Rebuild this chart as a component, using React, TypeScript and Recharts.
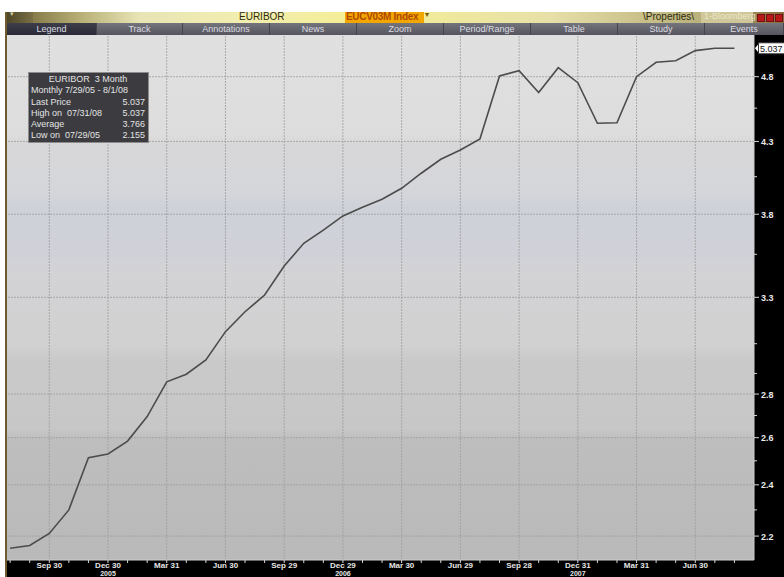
import React from "react";
import { LineChart, Line, XAxis, YAxis, ReferenceLine } from "recharts";

// monthly EURIBOR 3M fixings, 7/29/05 - 8/1/08
const dates = [
  "7/29/05", "8/31/05", "9/30/05", "10/31/05", "11/30/05", "12/30/05",
  "1/31/06", "2/28/06", "3/31/06", "4/28/06", "5/31/06", "6/30/06",
  "7/31/06", "8/31/06", "9/29/06", "10/31/06", "11/30/06", "12/29/06",
  "1/31/07", "2/28/07", "3/30/07", "4/30/07", "5/31/07", "6/29/07",
  "7/31/07", "8/31/07", "9/28/07", "10/31/07", "11/30/07", "12/31/07",
  "1/31/08", "2/29/08", "3/31/08", "4/30/08", "5/30/08", "6/30/08",
  "7/31/08", "8/1/08",
];
const rates = [
  2.155, 2.165, 2.21, 2.3, 2.513, 2.529,
  2.585, 2.695, 2.859, 2.896, 2.967, 3.113,
  3.22, 3.313, 3.48, 3.617, 3.699, 3.789,
  3.845, 3.898, 3.971, 4.074, 4.172, 4.238,
  4.318, 4.806, 4.849, 4.672, 4.874, 4.751,
  4.435, 4.439, 4.8, 4.919, 4.932, 5.017,
  5.037, 5.037,
];

const xTickIdx = [2, 5, 8, 11, 14, 17, 20, 23, 26, 29, 32, 35];
const xTickLabels = ["Sep 30", "Dec 30", "Mar 31", "Jun 30", "Sep 29", "Dec 29", "Mar 30", "Jun 29", "Sep 28", "Dec 31", "Mar 31", "Jun 30"];
const xTickYears = ["", "2005", "", "", "", "2006", "", "", "", "2007", "", ""];

const yMajor = [2.2, 2.4, 2.6, 2.8, 3.3, 3.8, 4.3, 4.8];
const yMinor = [2.3, 2.5, 2.7, 2.9, 3.05, 3.55, 4.05, 4.55];
const lastPrice = 5.037;

const legendRows = ["Last Price", "High on  07/31/08", "Average", "Low on  07/29/05"];
const legendVals = ["5.037", "5.037", "3.766", "2.155"];

const tabs = ["Legend", "Track", "Annotations", "News", "Zoom", "Period/Range", "Table", "Study", "Events"];

const data = dates.map((d, i) => ({ i, date: d, rate: rates[i] }));

const FONT = "'Liberation Sans', Arial, sans-serif";

function XTick(props: any) {
  const { x, y, payload } = props;
  const k = xTickIdx.indexOf(payload.value);
  return (
    <g>
      <line x1={x} x2={x} y1={y} y2={y + 3} stroke="#d6d6d6" />
      {k >= 0 && (
        <text x={x} y={y + 8} textAnchor="middle" fontSize={8} fontWeight="bold" fill="#e6e6e6" fontFamily={FONT}>
          {xTickLabels[k]}
        </text>
      )}
      {k >= 0 && xTickYears[k] && (
        <text x={x} y={y + 15.5} textAnchor="middle" fontSize={7} fontWeight="bold" fill="#e6e6e6" fontFamily={FONT}>
          {xTickYears[k]}
        </text>
      )}
    </g>
  );
}

function YTick(props: any) {
  const { x, y, payload } = props;
  const v = payload.value;
  if (v === lastPrice) {
    return (
      <g>
        <polygon points={`${x + 1},${y} ${x + 5},${y - 5} ${x + 5},${y + 5}`} fill="#ffffff" />
        <rect x={x + 4.5} y={y - 5.5} width={34} height={11} fill="#ffffff" stroke="#333" />
        <text x={x + 6} y={y + 3.5} fontSize={9} fill="#111" fontFamily={FONT}>
          {v.toFixed(3)}
        </text>
      </g>
    );
  }
  const major = yMajor.includes(v);
  return (
    <g>
      <line x1={x} x2={x + (major ? 5 : 3)} y1={y} y2={y} stroke="#d8d8d8" />
      {major && (
        <text x={x + 7} y={y + 3.5} fontSize={9} fontWeight="bold" fill="#e8e8e8" fontFamily={FONT}>
          {v.toFixed(1)}
        </text>
      )}
    </g>
  );
}

export default function App() {
  const tabW = [90, 86, 87, 87, 87, 87, 87, 87, 79];
  let tx = 7;
  return (
    <div style={{ position: "absolute", left: 0, top: 0, width: 784, height: 577, background: "#fff", overflow: "hidden", fontFamily: FONT }}>
      {/* left frame */}
      <div style={{ position: "absolute", left: 5, top: 12, width: 2, height: 565, background: "#6e5a2c" }} />
      {/* title bar */}
      <div
        style={{
          position: "absolute", left: 7, top: 12, width: 777, height: 11,
          background: "linear-gradient(to right, #6a6034 0%, #b4ac72 9%, #e8e4b4 17%, #f2eeb0 30%, #f4ee98 44%, #f0ea9c 55%, #e6e0a8 70%, #c8c088 82%, #b8b07c 90%, #8a6a40 100%)",
        }}
      >
        <div style={{ position: "absolute", left: 0, top: 0, width: 26, height: 11, background: "linear-gradient(to right, #4e4628, #7a7046)" }} />
        <div style={{ position: "absolute", left: 3, top: -2, fontSize: 7, color: "#d8d0a0" }}>▾</div>
        <div style={{ position: "absolute", left: 232, top: -1, fontSize: 10, color: "#2e2c10" }}>EURIBOR</div>
        <div style={{ position: "absolute", left: 338, top: 0, width: 79, height: 11, background: "#f2a600" }} />
        <div style={{ position: "absolute", left: 339, top: -1, fontSize: 10, color: "#b04800", fontWeight: "bold", letterSpacing: -0.3 }}>EUCV03M Index</div>
        <div style={{ position: "absolute", left: 418, top: -2, fontSize: 8, color: "#7a5a00" }}>▾</div>
        <div style={{ position: "absolute", left: 636, top: -1, fontSize: 10, color: "#2e2a10" }}>\Properties\</div>
        <div style={{ position: "absolute", left: 694, top: 0, width: 52, height: 11, background: "#cfc79a" }} />
        <div style={{ position: "absolute", left: 697, top: -1, fontSize: 9, color: "#ece6c4" }}>1-Bloomberg</div>
        {[750, 759, 768].map((bx) => (
          <div key={bx} style={{ position: "absolute", left: bx, top: 2, width: 8, height: 8, background: "#b81818", border: "1px solid #701010", boxSizing: "border-box" }} />
        ))}
      </div>
      {/* tab bar */}
      <div style={{ position: "absolute", left: 7, top: 23, width: 777, height: 12, background: "linear-gradient(to bottom, #74747c, #55555e)" }}>
        {tabs.map((t, k) => {
          const left = tx - 7;
          tx += tabW[k];
          return (
            <div
              key={t}
              style={{
                position: "absolute", left, top: 0, width: tabW[k], height: 12, textAlign: "center", fontSize: 9, lineHeight: "12px",
                color: "#dcdce2", background: k === 0 ? "linear-gradient(to bottom, #3e3e4a, #2a2a36)" : "transparent",
                borderRight: "1px solid #44444c", boxSizing: "border-box",
              }}
            >
              {t}
            </div>
          );
        })}
      </div>
      {/* axis bands */}
      <div style={{ position: "absolute", left: 7, top: 35, width: 777, height: 542, background: "#000" }} />
      {/* plot background */}
      <div
        style={{
          position: "absolute", left: 7, top: 35, width: 747, height: 525,
          background: "linear-gradient(to bottom, #e0e0e0 0%, #dddddd 19%, #d7d7d9 21%, #d5d6da 30%, #cfd1d9 33%, #d0d1d8 42%, #d3d3d5 45%, #d1d1d2 59%, #c9c9c9 62%, #c7c7c7 75%, #bebebe 77%, #b9b9b9 100%)",
        }}
      />
      <div style={{ position: "absolute", left: 7, top: 35 }}>
        <LineChart width={777} height={542} data={data} margin={{ top: 0, right: 0, bottom: 0, left: 0 }}>
          <XAxis
            type="number"
            dataKey="i"
            domain={[-0.16, 38.0]}
            allowDataOverflow
            ticks={data.map((d) => d.i)}
            interval={0}
            tick={<XTick />}
            tickLine={false}
            tickSize={0}
            tickMargin={0}
            axisLine={{ stroke: "#cfcfcf" }}
            height={17}
          />
          <YAxis
            orientation="right"
            type="number"
            scale="log"
            domain={[2.1124, 5.152]}
            allowDataOverflow
            ticks={[...yMajor, ...yMinor, lastPrice]}
            interval={0}
            tick={<YTick />}
            tickLine={false}
            tickSize={0}
            tickMargin={0}
            axisLine={{ stroke: "#cfcfcf" }}
            width={30}
          />
          {yMajor.map((v) => (
            <ReferenceLine key={"h" + v} y={v} stroke="#9e9e9e" strokeOpacity={0.8} strokeDasharray="2 1" />
          ))}
          {xTickIdx.map((v) => (
            <ReferenceLine key={"v" + v} x={v} stroke="#9e9e9e" strokeOpacity={0.8} strokeDasharray="2 1" />
          ))}
          <Line type="linear" dataKey="rate" stroke="#4c4c4c" strokeWidth={1.6} dot={false} isAnimationActive={false} />
        </LineChart>
      </div>
      {/* legend box */}
      <div
        style={{
          position: "absolute", left: 28, top: 72, width: 121, height: 71, background: "#3b3b40", border: "1px solid #8c8c8c",
          boxSizing: "border-box", color: "#e4e4e4", fontSize: 9, lineHeight: "11.3px", padding: "1px 3px 0 2px",
        }}
      >
        <div style={{ textAlign: "center" }}>EURIBOR&nbsp; 3 Month</div>
        <div>Monthly 7/29/05 - 8/1/08</div>
        {legendRows.map((r, k) => (
          <div key={r} style={{ display: "flex", justifyContent: "space-between", whiteSpace: "pre" }}>
            <span>{r}</span>
            <span>{legendVals[k]}</span>
          </div>
        ))}
      </div>
    </div>
  );
}
